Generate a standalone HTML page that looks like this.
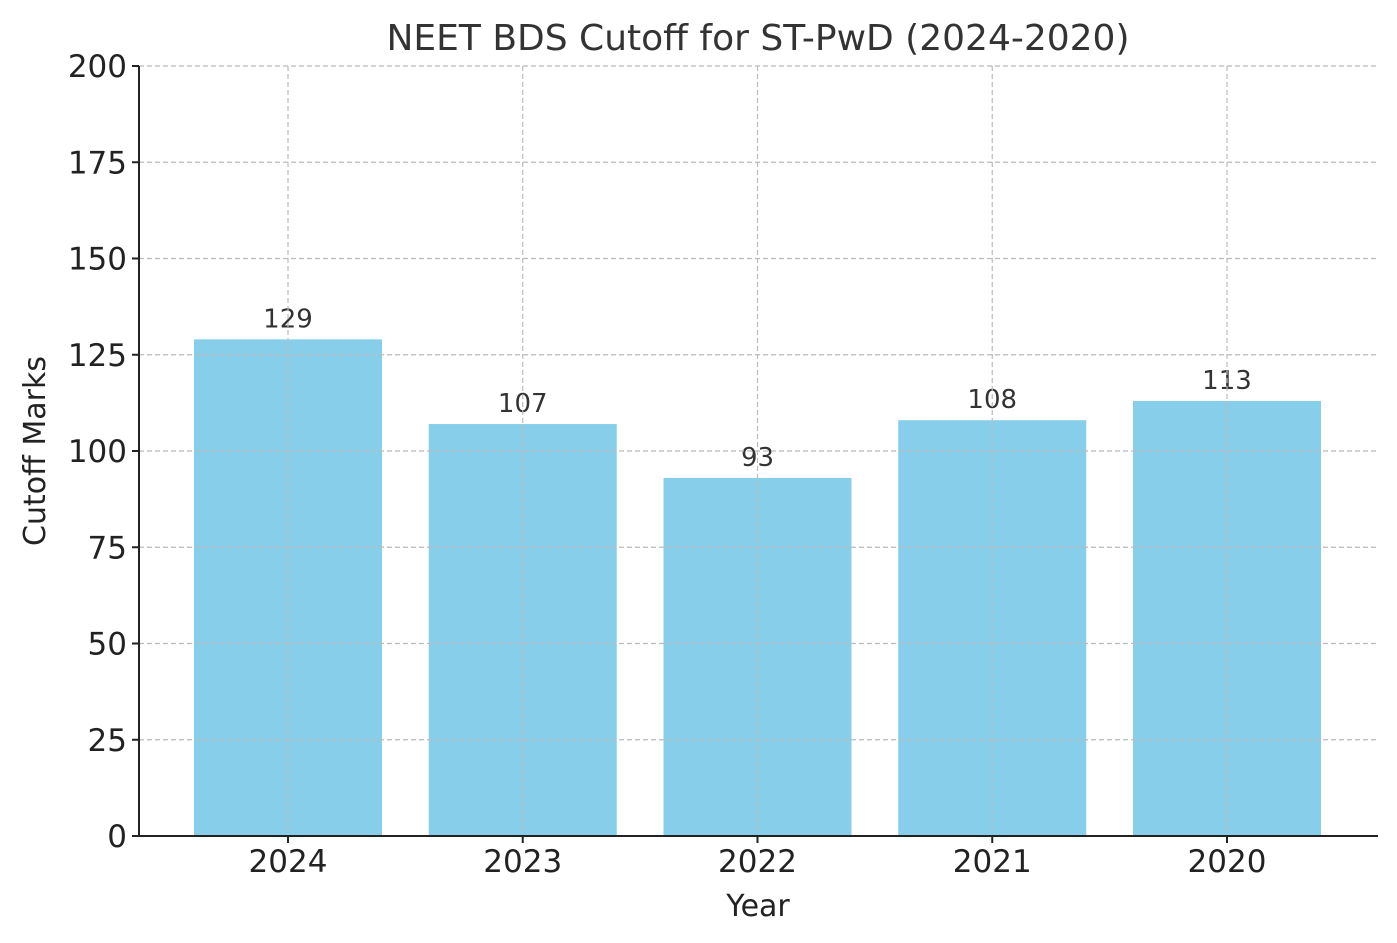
<!DOCTYPE html>
<html><head><meta charset="utf-8"><style>
body{margin:0;background:#fff;}
svg{display:block;font-family:"DejaVu Sans","Liberation Sans",sans-serif;}
</style></head><body>
<svg id="chart" width="1397" height="943" viewBox="0 0 1397 943">
<text x="758" y="50" text-anchor="middle" font-size="36" fill="#333">NEET BDS Cutoff for ST-PwD (2024-2020)</text>
<g id="grid"></g><g id="bars"></g><g id="axes"></g>
<text x="758" y="916" text-anchor="middle" font-size="30" fill="#222">Year</text>
<text transform="translate(45,451) rotate(-90)" text-anchor="middle" font-size="30" fill="#222">Cutoff Marks</text>
</svg>
<script>
const categories = ["2024","2023","2022","2021","2020"];
const values = [129,107,93,108,113];
const yTicks = [0,25,50,75,100,125,150,175,200];
const NS="http://www.w3.org/2000/svg";
const L=139,R=1378,T=66,B=836,yMax=200;
const step=(R-L+10)/categories.length;
function xC(i){return 288+i*234.75;}
function yS(v){return B-(v/yMax)*(B-T);}
function mk(tag,attrs,parent){const e=document.createElementNS(NS,tag);for(const k in attrs)e.setAttribute(k,attrs[k]);parent.appendChild(e);return e;}
const grid=document.getElementById('grid'),bars=document.getElementById('bars'),axes=document.getElementById('axes');
categories.forEach((c,i)=>{
  const x=xC(i),y=yS(values[i]);
  const r=mk('rect',{x:x-94,y:y,width:188,height:B-y,fill:'#87CEEB'},bars);
  
  
  const t=mk('text',{x:x,y:y-12,'text-anchor':'middle','font-size':26,fill:'#333'},bars);
  t.textContent=values[i];
  
  
  const xt=mk('text',{x:x,y:872,'text-anchor':'middle','font-size':31,fill:'#222'},axes);
  xt.textContent=c;
  
  
  mk('line',{x1:x,x2:x,y1:B,y2:B+7,stroke:'#222','stroke-width':2},axes);
});
yTicks.forEach(v=>{
  const y=yS(v);
  const yt=mk('text',{x:127,y:y+11,'text-anchor':'end','font-size':31,fill:'#222'},axes);
  yt.textContent=v;
  
  
  mk('line',{x1:L-7,x2:L,y1:y,y2:y,stroke:'#222','stroke-width':2},axes);
});
// grid lines drawn above bars
const gtop=document.createElementNS(NS,'g');document.getElementById('chart').insertBefore(gtop,axes);
yTicks.forEach(v=>{const y=yS(v);mk('line',{x1:L,x2:R,y1:y,y2:y,stroke:'#bbb','stroke-width':1.2,'stroke-dasharray':'5,3'},gtop);});
categories.forEach((c,i)=>{const x=xC(i);mk('line',{x1:x,x2:x,y1:T,y2:B,stroke:'#bbb','stroke-width':1.2,'stroke-dasharray':'5,3'},gtop);});
mk('line',{x1:L,x2:L,y1:T,y2:B+1,stroke:'#222','stroke-width':2},axes);
mk('line',{x1:L-1,x2:R,y1:B,y2:B,stroke:'#222','stroke-width':2},axes);
</script>
</body></html>
